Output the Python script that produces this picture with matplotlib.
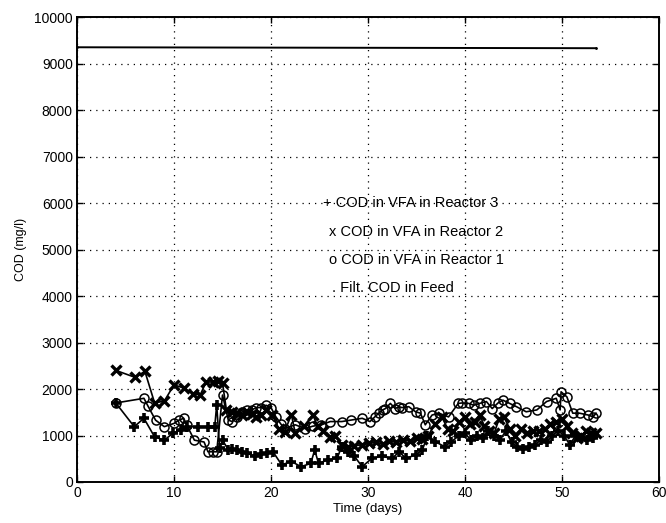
import matplotlib
matplotlib.use("Agg")
import matplotlib.pyplot as plt

plt.rcParams['font.family'] = ['Liberation Sans', 'DejaVu Sans']

# ---- data ----
r3_days = [4, 5.9, 6.9, 8, 9, 9.9, 10.7, 11.3, 12.5, 13.5,
           14.2, 14.4, 14.7, 15, 15.6, 16, 16.5, 17, 17.5, 18.3,
           19, 19.6, 20.2, 21.1, 22.1, 23.1, 24.1, 24.5, 24.9, 25.9,
           26.8, 27.3, 27.9, 28.6, 29.4, 30.4, 31.4, 32.5, 33.2, 33.9,
           34.9, 35.6, 36.1, 36.9, 37.9, 38.6, 39.4, 40, 40.6, 41.2,
           41.8, 42.4, 43, 43.6, 44.2, 44.8, 45.4, 46, 46.6, 47.2,
           47.8, 48.4, 49, 49.6, 50.2, 50.8, 51.4, 52, 52.6, 53.2]
r3_cod = [1700, 1190, 1370, 970, 900, 1050, 1120, 1190, 1190, 1190,
          1190, 1660, 730, 900, 690, 700, 680, 650, 620, 560,
          600, 620, 650, 370, 440, 330, 400, 690, 400, 480,
          510, 760, 650, 550, 330, 510, 550, 510, 650, 510,
          580, 690, 980, 870, 760, 870, 1000, 1050, 900, 1000,
          950, 1100, 1000, 900, 1100, 850, 750, 700, 750, 800,
          900, 850, 1000, 1100, 1000, 800, 1000, 950, 900, 950]

r2_days = [4, 6, 7, 8, 9, 10, 11, 12, 12.7, 13.3,
           14, 14.5, 15, 15.4, 16, 16.5, 17, 17.5, 18, 18.5,
           19, 19.5, 20.1, 20.8, 21.4, 22.1, 22.5, 23.4, 24.3, 24.8,
           25.4, 26.1, 26.6, 27.3, 27.9, 28.6, 29.4, 30.1, 30.8, 31.5,
           32.2, 32.9, 33.6, 34.3, 35, 35.6, 36.2, 36.9, 37.6, 38.2,
           38.8, 39.4, 40, 40.5, 41, 41.5, 42, 42.5, 43, 43.5,
           44, 44.6, 45.2, 45.8, 46.4, 47, 47.6, 48.2, 48.8, 49.4,
           50, 50.5, 51, 51.5, 52, 52.5, 53, 53.5]
r2_cod = [2400, 2250, 2380, 1700, 1740, 2090, 2020, 1900, 1870, 2150,
          2150, 2170, 2130, 1550, 1500, 1480, 1450, 1500, 1470, 1400,
          1450, 1550, 1450, 1150, 1080, 1450, 1050, 1200, 1450, 1200,
          1100, 970, 1000, 800, 750, 780, 800, 830, 850, 820,
          880, 850, 900, 880, 950, 920, 1000, 1250, 1400, 1150,
          1100, 1300, 1400, 1250, 1300, 1450, 1200, 1100, 1050, 1350,
          1400, 1150, 1000, 1150, 1050, 1100, 1100, 1150, 1250, 1300,
          1350, 1200, 1050, 950, 1000, 1100, 1050, 1050]

r1_days = [4, 6.9, 7.3, 8.1, 9, 10, 10.5, 11, 11.3, 12.1,
           13.1, 13.5, 14, 14.4, 15.0, 15.6, 16, 16.5, 17, 17.5,
           18, 18.5, 19, 19.5, 20, 20.5, 21, 21.4, 22.5, 23.5,
           24.3, 25.2, 26.1, 27.3, 28.2, 29.4, 30.2, 30.7, 31.1, 31.5,
           31.8, 32.3, 32.8, 33.2, 33.5, 34.2, 34.9, 35.4, 35.9, 36.6,
           37.3, 38.3, 39.3, 39.7, 40.4, 40.9, 41.5, 42.2, 42.8, 43.4,
           43.9, 44.6, 45.3, 46.3, 47.4, 48.4, 49.4, 49.8, 49.9, 50.5,
           51.1, 51.8, 52.7, 53.2, 53.5]
r1_cod = [1700, 1800, 1640, 1330, 1190, 1260, 1330, 1370, 1230, 900,
          860, 650, 650, 650, 1870, 1330, 1300, 1400, 1500, 1550,
          1550, 1600, 1600, 1650, 1600, 1400, 1250, 1150, 1230, 1150,
          1200, 1230, 1300, 1300, 1330, 1370, 1300, 1400, 1480, 1550,
          1580, 1690, 1580, 1620, 1600, 1620, 1510, 1480, 1230, 1440,
          1480, 1400, 1690, 1700, 1690, 1650, 1690, 1730, 1580, 1700,
          1760, 1690, 1620, 1510, 1550, 1730, 1800, 1550, 1940, 1830,
          1480, 1480, 1440, 1400, 1480]

feed_days = [0, 53.5]
feed_cod = [9350, 9330]

legend_texts = ['+ COD in VFA in Reactor 3',
                'x COD in VFA in Reactor 2',
                'o COD in VFA in Reactor 1',
                '. Filt. COD in Feed']
legend_x = [25.4, 26.0, 26.0, 26.3]
legend_y = [6000, 5380, 4780, 4170]

xticks = [0, 10, 20, 30, 40, 50, 60]
yticks = [0, 1000, 2000, 3000, 4000, 5000, 6000, 7000, 8000, 9000, 10000]

# ---- figure ----
fig = plt.figure(figsize=(6.66, 5.23), dpi=100)
ax = fig.add_axes([0.1156, 0.0784, 0.874, 0.889])

ax.plot(feed_days, feed_cod, color='black', lw=1.4, marker='.', markersize=2)
ax.plot(r1_days, r1_cod, color='black', lw=1.2, marker='o', markersize=6.5,
        mfc='none', mec='black', mew=1.1)
ax.plot(r2_days, r2_cod, color='black', lw=1.2, marker='x', markersize=7, mew=2.4)
ax.plot(r3_days, r3_cod, color='black', lw=1.2, marker='+', markersize=7, mew=2.6)

for t, x, y in zip(legend_texts, legend_x, legend_y):
    ax.text(x, y, t, fontsize=10.5, va='center', ha='left', color='black')

ax.set_xlim(0, 60)
ax.set_ylim(0, 10000)
ax.set_xticks(xticks)
ax.set_yticks(yticks)
ax.tick_params(direction='in', length=4, width=1, top=True, right=True,
               labelsize=10, pad=3)
ax.grid(True, color='black', linestyle=(0, (1, 4)), linewidth=0.9)
for s in ax.spines.values():
    s.set_linewidth(1.4)

ax.set_xlabel('Time (days)', fontsize=9.5, labelpad=2)
ax.set_ylabel('COD (mg/l)', fontsize=9, labelpad=5)

fig.savefig('out.png', dpi=100)
